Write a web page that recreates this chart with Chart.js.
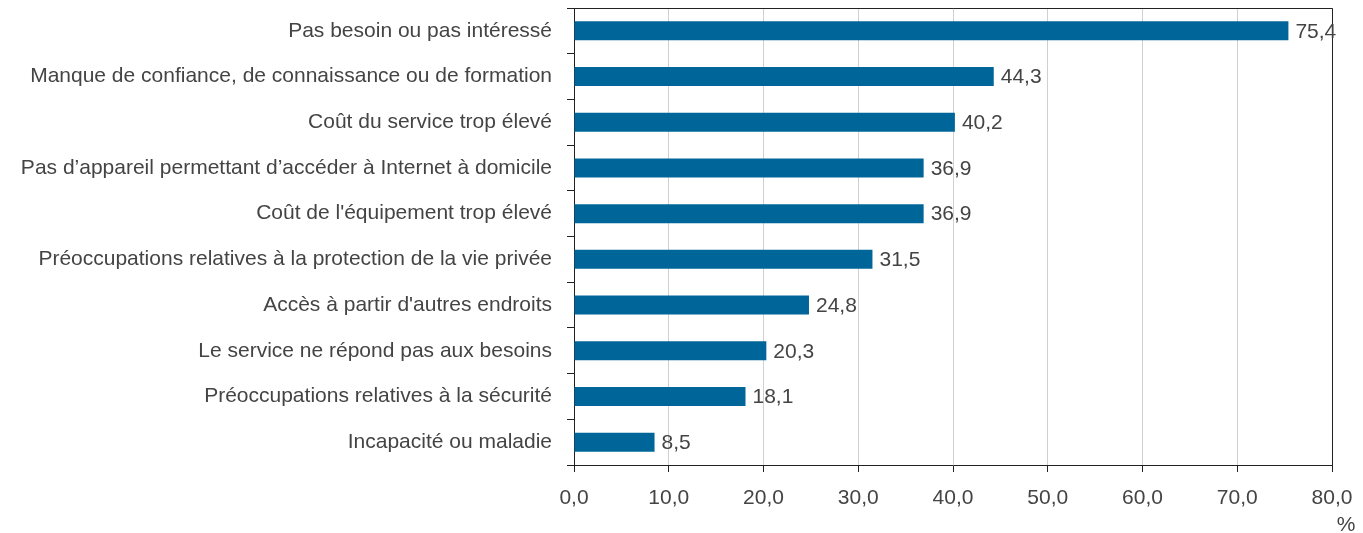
<!DOCTYPE html>
<html>
<head>
<meta charset="utf-8">
<script src="https://cdn.jsdelivr.net/npm/chart.js@4"></script>
<style>
  html, body { margin: 0; padding: 0; background: #fff; }
  #wrap { width: 1363px; height: 533px; }
</style>
</head>
<body>
<div id="wrap"><canvas id="myChart"></canvas></div>
<script>
// categories, top to bottom
var categories = [
  "Pas besoin ou pas intéressé",
  "Manque de confiance, de connaissance ou de formation",
  "Coût du service trop élevé",
  "Pas d’appareil permettant d’accéder à Internet à domicile",
  "Coût de l'équipement trop élevé",
  "Préoccupations relatives à la protection de la vie privée",
  "Accès à partir d'autres endroits",
  "Le service ne répond pas aux besoins",
  "Préoccupations relatives à la sécurité",
  "Incapacité ou maladie"
];
var values = [75.4, 44.3, 40.2, 36.9, 36.9, 31.5, 24.8, 20.3, 18.1, 8.5];
var xMin = 0, xMax = 80, xStep = 10;
var unitLabel = "%";

var FONT = "'Liberation Sans', Arial, sans-serif";
var FSIZE = 21;
var TXT = "#444444";

function fr(v, d) {
  return v.toFixed(d).replace('.', ',');
}

// value labels at bar ends + top/right frame + unit label
var extras = {
  id: 'extras',
  afterDatasetsDraw: function(chart) {
    var c = chart.ctx;
    var a = chart.chartArea;
    c.save();
    c.strokeStyle = '#222';
    c.lineWidth = 1;
    c.beginPath();
    c.moveTo(a.left, a.top + 0.5);
    c.lineTo(a.right + 0.5, a.top + 0.5);
    c.lineTo(a.right + 0.5, a.bottom);
    c.stroke();

    c.font = FSIZE + 'px ' + FONT;
    c.fillStyle = TXT;
    c.textBaseline = 'middle';
    c.textAlign = 'left';
    chart.getDatasetMeta(0).data.forEach(function(bar, i) {
      c.fillText(fr(values[i], 1), bar.x + 7, bar.y + 1);
    });
    c.textAlign = 'center';
    c.fillText(unitLabel, a.right + 14, chart.height - 8);
    c.restore();
  }
};

var ctx = document.getElementById('myChart').getContext('2d');
var myChart = new Chart(ctx, {
  type: 'bar',
  data: {
    labels: categories,
    datasets: [{
      data: values,
      backgroundColor: '#006699',
      borderWidth: 0,
      barPercentage: 0.83,
      categoryPercentage: 0.5
    }]
  },
  plugins: [extras],
  options: {
    indexAxis: 'y',
    responsive: true,
    maintainAspectRatio: false,
    animation: false,
    layout: { padding: { top: 8, right: 31, bottom: 0, left: 0 } },
    plugins: { legend: { display: false }, tooltip: { enabled: false } },
    scales: {
      x: {
        min: xMin, max: xMax,
        afterFit: function(s) { s.height = 68; s.paddingLeft = 0; s.paddingRight = 0; },
        grid: { color: '#d0d0d0', tickColor: '#222', tickLength: 7, lineWidth: 1 },
        border: { color: '#222', width: 1 },
        ticks: {
          stepSize: xStep,
          padding: 14,
          maxRotation: 0,
          color: TXT,
          font: { family: FONT, size: FSIZE },
          callback: function(v) { return fr(v, 1); }
        }
      },
      y: {
        afterFit: function(s) { s.width = 574; s.paddingTop = 0; s.paddingBottom = 0; },
        grid: { drawOnChartArea: false, tickColor: '#222', tickLength: 7, offset: true },
        border: { color: '#222', width: 1 },
        ticks: {
          padding: 15,
          color: TXT,
          font: { family: FONT, size: FSIZE }
        }
      }
    }
  }
});
</script>
</body>
</html>
